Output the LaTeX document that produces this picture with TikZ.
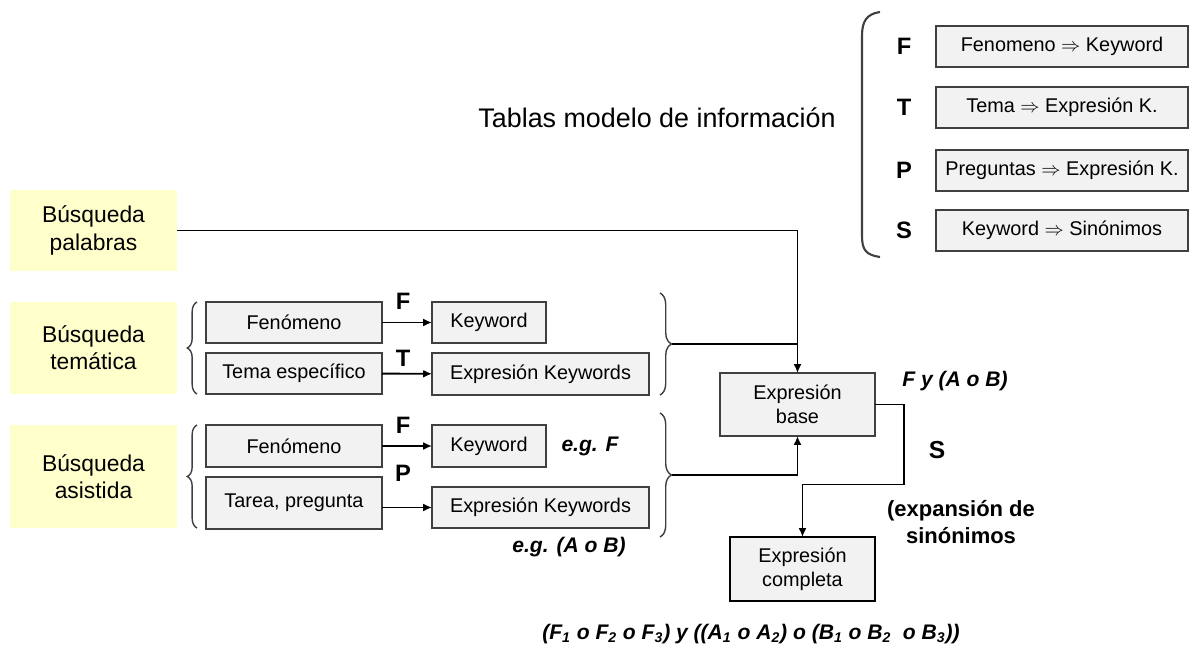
\documentclass[tikz,border=0pt]{standalone}
\usepackage{fontspec}
\setmainfont{Liberation Sans}
\usetikzlibrary{arrows.meta,decorations.pathreplacing}
\definecolor{yellowbg}{HTML}{FFFFCC}
\definecolor{boxbg}{HTML}{F2F2F2}
\definecolor{boxline}{HTML}{404040}

\begin{document}
\begin{tikzpicture}[x=0.02cm,y=-0.02cm,
  search/.style={fill=yellowbg,inner sep=0,outer sep=0,align=center,font=\fontsize{13}{15.5}\selectfont},
  box/.style={draw=boxline,line width=1pt,fill=boxbg,inner sep=0,outer sep=0,align=center,font=\fontsize{11.3}{13.6}\selectfont},
  tag/.style={font=\fontsize{13.5}{14}\selectfont\bfseries},
  note/.style={font=\fontsize{12}{14}\selectfont\bfseries\itshape},
  conn/.style={line width=1.1pt,-{Latex[length=5pt,width=4.5pt]}},
  brc/.style={draw=boxline,line width=0.8pt,decorate,decoration={brace,amplitude=#1}}]
  \useasboundingbox (0,0) rectangle (1192,648);
  % search kinds
  \node[search,minimum width=3.34cm,minimum height=1.62cm] (palabras) at (93.5,230.5) {Búsqueda\\palabras};
  \node[search,minimum width=3.34cm,minimum height=1.84cm] (tematica) at (93.5,348) {Búsqueda\\temática};
  \node[search,minimum width=3.34cm,minimum height=2.06cm] (asistida) at (93.5,476.5) {Búsqueda\\asistida};
  % inputs
  \node[box,minimum width=3.52cm,minimum height=0.82cm] (fenA) at (294,322.5) {Fenómeno};
  \node[box,minimum width=3.52cm,minimum height=0.82cm] (temaA) at (294,373.5) {Tema específico};
  \node[box,minimum width=3.52cm,minimum height=0.84cm] (fenB) at (294,446) {Fenómeno};
  \node[box,minimum width=3.52cm,minimum height=1.04cm] (tarea) at (294,503) {Tarea, pregunta};
  % outputs
  \node[box,minimum width=2.28cm,minimum height=0.82cm] (kwA) at (489,322.5) {Keyword};
  \node[box,minimum width=4.34cm,minimum height=0.84cm] (exA) at (540.5,374) {Expresión Keywords};
  \node[box,minimum width=2.28cm,minimum height=0.84cm] (kwB) at (489,446) {Keyword};
  \node[box,minimum width=4.34cm,minimum height=0.82cm] (exB) at (540.5,507.5) {Expresión Keywords};
  \node[box,minimum width=3.1cm,minimum height=1.26cm] (base) at (797.5,404.5) {Expresión\\base};
  \node[box,draw=black,line width=1.3pt,minimum width=2.9cm,minimum height=1.28cm] (completa) at (802.5,569) {Expresión\\completa};
  % braces
  \draw[brc=5.5pt] (197,394) -- (197,302);
  \draw[brc=5.5pt] (197,528) -- (197,425);
  \draw[brc=6.5pt] (660,293) -- (660,395);
  \draw[brc=6.5pt] (660,413) -- (660,537);
  \coordinate (tipA) at (672,344);
  \coordinate (tipB) at (672,475);
  % connectors
  \draw[conn] (fenA) -- (kwA);
  \draw[conn] (temaA) -- (exA);
  \draw[conn] (fenB) -- (kwB);
  \draw[conn] (tarea.east |- exB.west) -- (exB.west);
  \draw[conn] (palabras.east) -| (base.north);
  \draw[line width=1.1pt] (tipA) -- (tipA -| base.north);
  \draw[conn] (tipB) -| (base.south);
  \draw[conn] (base.east) -- ++(29,0) -- ++(0,80) -| (completa.north);
  \foreach \n/\p/\t in {lF1/{403,301}/F,lT/{403,358}/T,lF2/{403,425}/F,lP/{403,473}/P}
    \node[tag] (\n) at (\p) {\t};
  % notes
  \node[note] (egF) at (590,446) {e.g. F};
  \node[note] (egAB) at (569,547) {e.g. (A o B)};
  \node[note] (fyab) at (955,381) {F y (A o B)};
  \node[tag,font=\fontsize{14}{14}\selectfont\bfseries] (lS) at (937,450) {S};
  \node[tag,align=center,font=\fontsize{12.5}{15.5}\selectfont\bfseries] (exps) at (961,522) {(expansión de\\sinónimos};
  \node[note] (formula) at (751,634) {(F\textsubscript{1} o F\textsubscript{2} o F\textsubscript{3}) y ((A\textsubscript{1} o A\textsubscript{2}) o (B\textsubscript{1} o B\textsubscript{2}\ \ o B\textsubscript{3}))};
  % tables
  \node[font=\fontsize{15.3}{17}\selectfont] (title) at (657,118) {Tablas modelo de información};
  \draw[boxline,line width=1.2pt] (880,12) .. controls (866,14) and (862,22) .. (862,36) -- (862,236) .. controls (862,250) and (866,255) .. (880,257);
  \foreach \t/\y/\txt in {F/46.5/Fenomeno $\Rightarrow$ Keyword,T/107.5/Tema $\Rightarrow$ Expresión K.,P/170.5/Preguntas $\Rightarrow$ Expresión K.,S/230.5/Keyword $\Rightarrow$ Sinónimos}{
    \node[tag] (tl\t) at (904,\y) {\t};
    \node[box,minimum width=5.04cm,minimum height=0.82cm] (tab\t) at (1062,\y) {\txt};
  }
\end{tikzpicture}
\end{document}
